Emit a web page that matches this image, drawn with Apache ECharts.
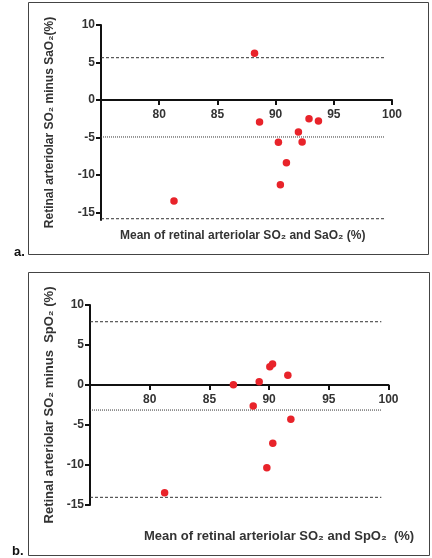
<!DOCTYPE html>
<html>
<head>
<meta charset="utf-8">
<script src="https://cdn.jsdelivr.net/npm/echarts@6/dist/echarts.min.js"></script>
<style>
html,body{margin:0;padding:0;background:#fff;}
#c{width:432px;height:558px;}
</style>
</head>
<body>
<div id="c"></div>
<script>
// ---- data ----
const xTicks = [80, 85, 90, 95, 100];
const yTicks = [-15, -10, -5, 0, 5, 10];
const xRange = [75, 100];
const yRangeA = [-16, 10];
const yRangeB = [-15, 10];

// panel a: mean of retinal SO2 and SaO2 vs difference
const meanA = [88.19, 88.62, 92.87, 93.68, 91.96, 92.28, 90.24, 90.93, 90.41, 81.27];
const diffA = [6.23, -2.93, -2.49, -2.80, -4.27, -5.60, -5.64, -8.36, -11.29, -13.47];
const limitsA = [5.64, -4.93, -15.83];   // upper LoA, mean bias, lower LoA

// panel b: mean of retinal SO2 and SpO2 vs difference
const meanB = [87.01, 89.17, 90.06, 90.29, 91.57, 88.67, 91.82, 90.31, 89.81, 81.25];
const diffB = [0.04, 0.42, 2.29, 2.63, 1.21, -2.62, -4.29, -7.29, -10.35, -13.46];
const limitsB = [7.91, -3.13, -14.04];

const limitLineX = [75, 99.4];

const yTitleA = 'Retinal arteriolar SO\u2082 minus SaO\u2082(%)';
const xTitleA = 'Mean of retinal arteriolar SO\u2082 and SaO\u2082 (%)';
const yTitleB = 'Retinal arteriolar SO\u2082 minus  SpO\u2082 (%)';
const xTitleB = 'Mean of retinal arteriolar SO\u2082 and SpO\u2082  (%)';

// ---- chart ----
const FONT = '"Liberation Sans", Arial, sans-serif';
const chart = echarts.init(document.getElementById('c'), null, {renderer: 'canvas'});

const grids = [
  {left: 101, top: 25, width: 291, height: 195},
  {left: 90, top: 305, width: 298.5, height: 200}
];
const yRanges = [yRangeA, yRangeB];

// place the x axis (line, ticks and labels) at y = 0 of its grid
function zeroOffset(i) {
  const g = grids[i], r = yRanges[i];
  const yZero = g.top + g.height * (r[1] - 0) / (r[1] - r[0]);
  return -((g.top + g.height) - yZero);
}

function xAxisCfg(gridIndex) {
  return {
    type: 'value', gridIndex, min: xRange[0], max: xRange[1],
    position: 'bottom', offset: zeroOffset(gridIndex),
    splitLine: {show: false},
    axisLine: {onZero: false, lineStyle: {color: '#111', width: 2}},
    axisTick: {customValues: xTicks, length: 5, lineStyle: {color: '#111', width: 2}},
    axisLabel: {customValues: xTicks, margin: 9, fontFamily: FONT, fontWeight: 'bold', fontSize: 12, color: '#333'}
  };
}
function yAxisCfg(gridIndex, range, name, gap, fs) {
  return {
    type: 'value', gridIndex, min: range[0], max: range[1],
    splitLine: {show: false},
    axisLine: {onZero: false, lineStyle: {color: '#111', width: 2}},
    axisTick: {customValues: yTicks, length: 5, lineStyle: {color: '#111', width: 2}},
    axisLabel: {customValues: yTicks, margin: 6, fontFamily: FONT, fontWeight: 'bold', fontSize: 12, color: '#333'},
    name: name, nameLocation: 'middle', nameGap: gap,
    nameTextStyle: {fontFamily: FONT, fontWeight: 'bold', fontSize: fs, color: '#333'}
  };
}
function limitSeries(limits, xIdx, yIdx) {
  const types = [[3, 2], [1, 1], [3, 2]];
  return limits.map((v, i) => ({
    type: 'line', xAxisIndex: xIdx, yAxisIndex: yIdx,
    data: [[limitLineX[0], v], [limitLineX[1], v]],
    symbol: 'none', silent: true, z: 1,
    lineStyle: {color: '#333', width: 1, type: types[i]}
  }));
}
function pointSeries(xs, ys, xIdx, yIdx) {
  return {
    type: 'scatter', xAxisIndex: xIdx, yAxisIndex: yIdx,
    data: xs.map((x, i) => [x, ys[i]]),
    symbol: 'circle', symbolSize: 7.5, z: 5,
    itemStyle: {color: '#e8232a', opacity: 1}
  };
}

const option = {
  animation: false,
  backgroundColor: '#fff',
  grid: grids.map(g => Object.assign({outerBoundsMode: 'none', containLabel: false}, g)),
  xAxis: [xAxisCfg(0), xAxisCfg(1)],
  yAxis: [
    yAxisCfg(0, yRangeA, yTitleA, 45, 12),
    yAxisCfg(1, yRangeB, yTitleB, 34, 13)
  ],
  graphic: [
    {type: 'rect', shape: {x: 28.5, y: 2.5, width: 400, height: 252}, style: {fill: 'none', stroke: '#444', lineWidth: 1}, silent: true},
    {type: 'rect', shape: {x: 28.5, y: 272.5, width: 401, height: 283}, style: {fill: 'none', stroke: '#444', lineWidth: 1}, silent: true},
    {type: 'text', x: 14, y: 252, style: {text: 'a.', font: 'bold 13px ' + FONT, fill: '#111', verticalAlign: 'middle'}},
    {type: 'text', x: 12, y: 551, style: {text: 'b.', font: 'bold 13px ' + FONT, fill: '#111', verticalAlign: 'middle'}},
    {type: 'text', x: 120, y: 236, style: {text: xTitleA, font: 'bold 12px ' + FONT, fill: '#333', verticalAlign: 'middle'}},
    {type: 'text', x: 144, y: 536, style: {text: xTitleB, font: 'bold 13px ' + FONT, fill: '#333', verticalAlign: 'middle'}}
  ],
  series: [
    ...limitSeries(limitsA, 0, 0),
    pointSeries(meanA, diffA, 0, 0),
    ...limitSeries(limitsB, 1, 1),
    pointSeries(meanB, diffB, 1, 1)
  ]
};
chart.setOption(option);
</script>
</body>
</html>
